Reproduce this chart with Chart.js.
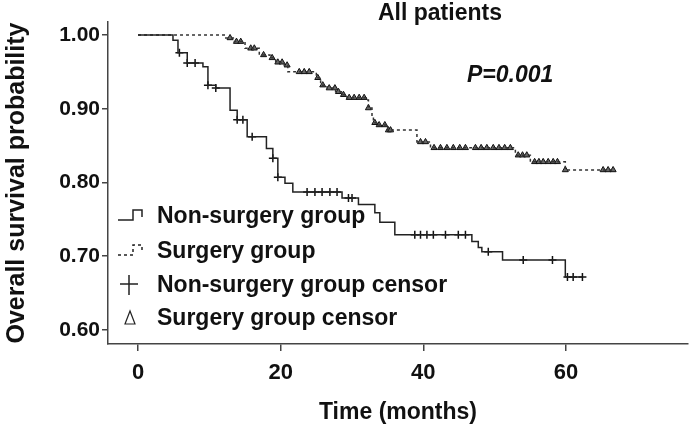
<!DOCTYPE html>
<html>
<head>
<meta charset="utf-8">
<script src="https://cdn.jsdelivr.net/npm/chart.js@4.4.1/dist/chart.umd.min.js"></script>
<style>
  html, body { margin: 0; padding: 0; background: #fff; }
  #wrap { width: 694px; height: 429px; }
</style>
</head>
<body>
<div id="wrap"><canvas id="kmChart" width="694" height="429"></canvas></div>
<script>
// Kaplan-Meier steps: event time (months) and survival after the event
const nonSurgeryTimes = [0, 4.9, 5.6, 6.9, 9.1, 9.8, 10.9, 12.9, 13.9, 15.3, 18.0, 18.9, 19.6, 20.6, 21.7, 28.6, 30.9, 33.2, 33.9, 36.0, 46.8, 47.7, 48.2, 51.1, 59.9, 62.3];
const nonSurgerySurv  = [1.0, 0.993, 0.976, 0.962, 0.957, 0.932, 0.928, 0.898, 0.885, 0.862, 0.846, 0.833, 0.807, 0.799, 0.787, 0.779, 0.770, 0.759, 0.746, 0.729, 0.720, 0.712, 0.706, 0.695, 0.672, 0.672];
const nonSurgeryCensor = [5.8, 6.9, 8.0, 9.8, 10.9, 13.9, 14.7, 16.0, 18.9, 19.6, 23.7, 24.8, 25.8, 26.9, 27.9, 29.5, 30.0, 38.8, 39.6, 40.5, 41.4, 43.1, 44.9, 45.9, 49.1, 54.0, 58.1, 60.2, 61.0, 62.3];

const surgeryTimes = [0, 12.3, 13.5, 15.0, 17.0, 18.5, 19.3, 20.5, 21.0, 25.0, 25.6, 26.5, 27.7, 28.5, 29.3, 32.0, 32.3, 32.8, 33.0, 33.7, 35.0, 39.1, 41.0, 52.9, 55.0, 59.9, 66.6];
const surgerySurv  = [1.0, 0.996, 0.991, 0.982, 0.973, 0.969, 0.963, 0.959, 0.950, 0.942, 0.932, 0.928, 0.923, 0.919, 0.915, 0.912, 0.901, 0.889, 0.881, 0.878, 0.871, 0.855, 0.847, 0.837, 0.828, 0.817, 0.817];
const surgeryCensor = [12.9, 13.8, 14.4, 15.8, 16.3, 17.6, 18.8, 19.6, 20.2, 20.9, 22.6, 23.3, 24.0, 25.2, 25.9, 26.8, 27.6, 28.1, 28.8, 29.6, 30.3, 31.0, 31.7, 32.3, 33.2, 33.8, 34.6, 35.1, 35.4, 39.6, 40.3, 41.5, 42.4, 43.3, 44.2, 45.1, 45.9, 47.3, 48.1, 48.9, 49.8, 50.6, 51.4, 52.2, 53.3, 53.9, 54.5, 55.6, 56.2, 56.8, 57.5, 58.2, 58.8, 59.9, 65.2, 65.9, 66.6];

const xTicks = [0, 20, 40, 60];
const yTicks = [0.6, 0.7, 0.8, 0.9, 1.0];
const legendLabels = ["Non-surgery group", "Surgery group", "Non-surgery group censor", "Surgery group censor"];

const FONT = "'Liberation Sans', Arial, sans-serif";

function steps(times, surv) {
  return times.map((t, i) => ({ x: t, y: surv[i] }));
}
// survival value of the curve at time t (for placing censor marks)
function survAt(times, surv, t) {
  let v = surv[0];
  for (let i = 0; i < times.length; i++) {
    if (times[i] <= t + 1e-9) v = surv[i];
  }
  return v;
}
function censors(list, times, surv) {
  return list.map(t => ({ x: t, y: survAt(times, surv, t) }));
}

const decor = {
  id: 'decor',
  afterDraw(chart) {
    const ctx = chart.ctx;
    ctx.save();
    ctx.fillStyle = '#111';
    ctx.textBaseline = 'middle';
    ctx.font = 'bold 23px ' + FONT;
    ctx.textAlign = 'left';
    ctx.fillText('All patients', 378, 14);
    ctx.font = 'italic bold 23px ' + FONT;
    ctx.fillText('P=0.001', 467, 76);

    // legend
    const rows = [217, 252, 286, 319];
    ctx.font = 'bold 23px ' + FONT;
    legendLabels.forEach((lab, i) => ctx.fillText(lab, 157, rows[i]));

    ctx.strokeStyle = '#222';
    ctx.lineWidth = 1.5;
    // solid step symbol
    ctx.beginPath();
    ctx.moveTo(118, rows[0] + 3);
    ctx.lineTo(133, rows[0] + 3);
    ctx.lineTo(133, rows[0] - 7);
    ctx.lineTo(142, rows[0] - 7);
    ctx.lineTo(142, rows[0]);
    ctx.stroke();
    // dotted step symbol
    ctx.setLineDash([3, 3]);
    ctx.beginPath();
    ctx.moveTo(118, rows[1] + 3);
    ctx.lineTo(133, rows[1] + 3);
    ctx.lineTo(133, rows[1] - 7);
    ctx.lineTo(142, rows[1] - 7);
    ctx.lineTo(142, rows[1]);
    ctx.stroke();
    ctx.setLineDash([]);
    // plus
    ctx.beginPath();
    ctx.moveTo(120, rows[2] - 2);
    ctx.lineTo(138, rows[2] - 2);
    ctx.moveTo(129, rows[2] - 11);
    ctx.lineTo(129, rows[2] + 9);
    ctx.stroke();
    // triangle
    ctx.lineWidth = 1.2;
    ctx.beginPath();
    ctx.moveTo(130, rows[3] - 8);
    ctx.lineTo(125, rows[3] + 5);
    ctx.lineTo(135, rows[3] + 5);
    ctx.closePath();
    ctx.stroke();
    ctx.restore();
  }
};

new Chart(document.getElementById('kmChart'), {
  type: 'line',
  data: {
    datasets: [
      {
        label: legendLabels[0],
        data: steps(nonSurgeryTimes, nonSurgerySurv),
        stepped: 'before',
        borderColor: '#222',
        borderWidth: 1.5,
        pointRadius: 0,
        fill: false
      },
      {
        label: legendLabels[1],
        data: steps(surgeryTimes, surgerySurv),
        stepped: 'before',
        borderColor: '#333',
        borderWidth: 1.5,
        borderDash: [3, 3],
        pointRadius: 0,
        fill: false
      },
      {
        label: legendLabels[2],
        data: censors(nonSurgeryCensor, nonSurgeryTimes, nonSurgerySurv),
        showLine: false,
        pointStyle: 'cross',
        pointRadius: 4,
        borderColor: '#111',
        borderWidth: 1.5
      },
      {
        label: legendLabels[3],
        data: censors(surgeryCensor, surgeryTimes, surgerySurv),
        showLine: false,
        pointStyle: 'triangle',
        pointRadius: 3.5,
        borderColor: '#111',
        backgroundColor: '#666',
        borderWidth: 1
      }
    ]
  },
  options: {
    responsive: false,
    animation: false,
    layout: { padding: { top: 22, right: 6, bottom: 0, left: 0 } },
    plugins: {
      legend: { display: false },
      tooltip: { enabled: false }
    },
    scales: {
      x: {
        type: 'linear',
        min: -4.21,
        max: 77.1,
        afterBuildTicks: s => { s.ticks = xTicks.map(v => ({ value: v })); },
        afterFit: s => { s.height = 85; },
        grid: { drawOnChartArea: false, tickLength: 7, color: '#444', lineWidth: 1.5 },
        border: { color: '#444', width: 1.5 },
        ticks: {
          color: '#111',
          padding: 9,
          maxRotation: 0,
          font: { family: FONT, size: 22, weight: 'bold' }
        },
        title: {
          display: true,
          text: 'Time (months)',
          color: '#111',
          padding: { top: 0, bottom: 3 },
          font: { family: FONT, size: 23, weight: 'bold' }
        }
      },
      y: {
        min: 0.581,
        max: 1.0176,
        afterBuildTicks: s => { s.ticks = yTicks.map(v => ({ value: v })); },
        afterFit: s => { s.width = 108; },
        grid: { drawOnChartArea: false, tickLength: 6, color: '#444', lineWidth: 1.5 },
        border: { color: '#444', width: 1.5 },
        ticks: {
          color: '#111',
          padding: 2,
          callback: v => Number(v).toFixed(2),
          font: { family: FONT, size: 21, weight: 'bold' }
        },
        title: {
          display: true,
          text: 'Overall survival probability',
          color: '#111',
          padding: { top: 2, bottom: 0 },
          font: { family: FONT, size: 25, weight: 'bold' }
        }
      }
    }
  },
  plugins: [decor]
});
</script>
</body>
</html>
